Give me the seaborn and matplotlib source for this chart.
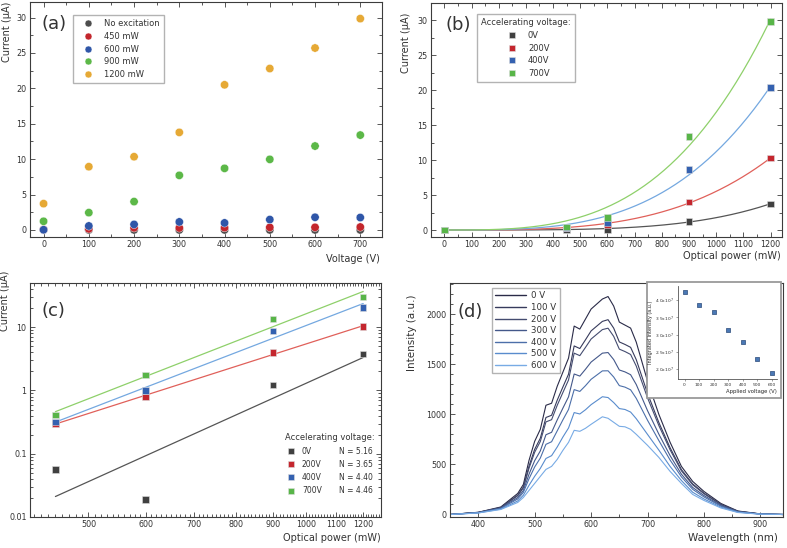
import numpy as np
import pandas as pd
import matplotlib.pyplot as plt
import seaborn as sns
from matplotlib.lines import Line2D
from matplotlib.patches import Rectangle
from matplotlib.ticker import MultipleLocator, FixedLocator, NullFormatter, FuncFormatter, LogLocator

# ---- (a) photocurrent vs accelerating voltage ----
voltages_a = [0, 100, 200, 300, 400, 500, 600, 700]
series_a = ["No excitation", "450 mW", "600 mW", "900 mW", "1200 mW"]
cur_none = [0.0, 0.0, 0.0, 0.0, 0.0, 0.0, 0.0, 0.0]
cur_450 = [0.056, 0.15, 0.30, 0.28, 0.32, 0.36, 0.37, 0.41]
cur_600 = [0.019, 0.56, 0.78, 1.13, 0.99, 1.46, 1.79, 1.75]
cur_900 = [1.22, 2.44, 4.0, 7.71, 8.7, 9.97, 11.85, 13.4]
cur_1200 = [3.71, 8.93, 10.34, 13.78, 20.5, 22.8, 25.7, 29.85]
colors_a = ["#4d4d4d", "#c3262c", "#2f56a8", "#5cb848", "#e6a935"]

# ---- (b)/(c) photocurrent vs optical power ----
power_bc = [0, 450, 600, 900, 1200]
volt_labels = ["0V", "200V", "400V", "700V"]
cur_0V = [0.0, 0.056, 0.019, 1.23, 3.75]
cur_200V = [0.0, 0.30, 0.79, 3.98, 10.3]
cur_400V = [0.0, 0.32, 0.99, 8.7, 20.4]
cur_700V = [0.0, 0.41, 1.76, 13.4, 29.85]
slopes_c = [5.16, 3.65, 4.40, 4.46]
mark_colors = ["#404040", "#c4262e", "#3461b0", "#58b548"]
fit_colors = ["#555555", "#e0605a", "#74a8e0", "#8ed06a"]

# ---- (d) spectra ----
wavelength = [350, 400, 440, 470, 480, 490, 500, 510, 520, 530, 540, 550, 560, 570, 580, 590,
              600, 620, 630, 640, 650, 660, 670, 680, 700, 720, 740, 760, 780, 800, 830, 860, 900, 940]
spec_0V = [0, 22, 75, 210, 300, 540, 730, 850, 1090, 1110, 1280, 1420, 1560, 1880, 1850, 1950,
           2050, 2150, 2175, 2080, 1920, 1890, 1860, 1720, 1330, 1000, 720, 480, 330, 230, 110, 35, 6, 0]
spec_100V = [0, 21, 70, 193, 275, 483, 650, 761, 968, 990, 1141, 1272, 1400, 1682, 1656, 1743,
             1832, 1927, 1944, 1860, 1722, 1697, 1668, 1545, 1208, 918, 665, 448, 305, 213, 101, 32, 5, 0]
spec_200V = [0, 20, 68, 187, 266, 462, 621, 728, 924, 946, 1090, 1217, 1342, 1610, 1585, 1667,
             1751, 1845, 1859, 1778, 1650, 1626, 1597, 1481, 1164, 888, 645, 436, 296, 207, 98, 31, 5, 0]
spec_300V = [0, 19, 64, 169, 240, 402, 537, 634, 796, 820, 944, 1061, 1174, 1402, 1381, 1449,
             1521, 1610, 1616, 1546, 1442, 1423, 1395, 1297, 1036, 802, 587, 402, 270, 189, 89, 28, 5, 0]
spec_400V = [0, 18, 60, 155, 221, 357, 474, 563, 700, 726, 835, 944, 1048, 1246, 1228, 1285,
             1349, 1433, 1434, 1372, 1286, 1271, 1244, 1159, 940, 738, 543, 376, 251, 175, 83, 26, 4, 0]
spec_500V = [0, 16, 54, 135, 192, 291, 381, 460, 559, 587, 674, 773, 863, 1017, 1003, 1045,
             1096, 1175, 1167, 1117, 1057, 1048, 1022, 956, 799, 643, 479, 339, 222, 155, 73, 23, 4, 0]
spec_600V = [0, 15, 50, 120, 170, 240, 310, 380, 450, 480, 550, 640, 720, 840, 830, 860,
             900, 975, 960, 920, 880, 875, 850, 800, 690, 570, 430, 310, 200, 140, 65, 20, 3, 0]
spec_labels = ["0 V", "100 V", "200 V", "300 V", "400 V", "500 V", "600 V"]
colors_d = ["#2a2b48", "#373b5c", "#444c70", "#44588a", "#4c6fa9", "#598ccd", "#78abe5"]

# inset: integrated intensity
inset_voltage = [0, 100, 200, 300, 400, 500, 600]
inset_integrated = [4.25e7, 3.87e7, 3.65e7, 3.15e7, 2.79e7, 2.29e7, 1.90e7]

sns.set_style("white")
plt.rcParams["font.family"] = ["DejaVu Sans"]
plt.rcParams["text.color"] = "#333333"

W, H = 787, 548
fig = plt.figure(figsize=(W / 100, H / 100), dpi=100)


def px_axes(l, t, r, b):
    return fig.add_axes([l / W, 1 - b / H, (r - l) / W, (b - t) / H])


def style_axes(ax, mirror=True):
    for s in ax.spines.values():
        s.set_color("#3c3c3c")
        s.set_linewidth(0.8)
    ax.tick_params(which="both", direction="in", top=mirror, right=mirror, bottom=True, left=True,
                   colors="#3c3c3c", labelcolor="#333333", labelsize=5.8, width=0.6, pad=2.5)
    ax.tick_params(which="major", length=3.5)
    ax.tick_params(which="minor", length=2)


def power_fit(x, y):
    # least squares y = a * x**n, scanning n
    x = np.asarray(x, float) / max(x)
    y = np.asarray(y, float)
    best = None
    for n in np.arange(1.0, 8.0, 0.01):
        xn = x ** n
        a = (xn * y).sum() / (xn * xn).sum()
        err = ((a * xn - y) ** 2).sum()
        if best is None or err < best[0]:
            best = (err, a, n)
    return best[1], best[2]


lbl_kw = dict(fontsize=7, color="#333333")

# ---------------- (a) ----------------
ax_a = px_axes(30, 2, 382, 237)
df_a = pd.DataFrame({
    "Voltage": voltages_a * len(series_a),
    "Current": cur_none + cur_450 + cur_600 + cur_900 + cur_1200,
    "Excitation": np.repeat(series_a, len(voltages_a)),
})
sns.scatterplot(data=df_a, x="Voltage", y="Current", hue="Excitation", hue_order=series_a,
                palette=colors_a, s=36, edgecolor="white", linewidth=0.3, ax=ax_a, legend=False)
ax_a.set_xlim(-30, 748)
ax_a.set_ylim(-1, 32.2)
ax_a.xaxis.set_major_locator(MultipleLocator(100))
ax_a.xaxis.set_minor_locator(MultipleLocator(50))
ax_a.yaxis.set_major_locator(MultipleLocator(5))
ax_a.yaxis.set_minor_locator(MultipleLocator(2.5))
style_axes(ax_a)
ax_a.set_xlabel("Voltage (V)", loc="right", **lbl_kw)
ax_a.set_ylabel("Current (\u03bcA)", loc="top", **lbl_kw)
ax_a.xaxis.set_label_coords(0.994, -0.072)
ax_a.yaxis.set_label_coords(-0.051, 1.0)
ax_a.text(0.034, 0.945, "(a)", transform=ax_a.transAxes, fontsize=13, va="top")
h_a = [Line2D([], [], ls="none", marker="o", ms=5, mfc=c, mec="white", mew=0.3) for c in colors_a]
ax_a.legend(h_a, series_a, loc="upper left", bbox_to_anchor=(0.122, 0.945), borderaxespad=0,
            fontsize=6, frameon=True, fancybox=False, edgecolor="#a0a0a0", handlelength=2.6,
            handletextpad=0.6, labelspacing=0.45, borderpad=0.5)

# ---------------- (b) ----------------
ax_b = px_axes(431, 3, 782, 237)
cur_all = [cur_0V, cur_200V, cur_400V, cur_700V]
df_bc = pd.DataFrame({
    "Power": power_bc * len(volt_labels),
    "Current": sum(cur_all, []),
    "Voltage": np.repeat(volt_labels, len(power_bc)),
})
fit_rows = []
xs = np.linspace(0, max(power_bc), 200)
for lab, cur in zip(volt_labels, cur_all):
    a, n = power_fit(power_bc, cur)
    for x in xs:
        fit_rows.append({"Power": x, "Current": a * (x / max(power_bc)) ** n, "Voltage": lab})
df_fit = pd.DataFrame(fit_rows)
sns.lineplot(data=df_fit, x="Power", y="Current", hue="Voltage", hue_order=volt_labels,
             palette=fit_colors, lw=0.9, estimator=None, ax=ax_b, legend=False)
sns.scatterplot(data=df_bc, x="Power", y="Current", hue="Voltage", hue_order=volt_labels,
                palette=mark_colors, marker="s", s=22, edgecolor="#dddddd", linewidth=0.4,
                ax=ax_b, legend=False, zorder=3)
ax_b.set_xlim(-49, 1242)
ax_b.set_ylim(-1, 32.5)
ax_b.xaxis.set_major_locator(MultipleLocator(100))
ax_b.xaxis.set_minor_locator(MultipleLocator(50))
ax_b.yaxis.set_major_locator(MultipleLocator(5))
ax_b.yaxis.set_minor_locator(MultipleLocator(2.5))
style_axes(ax_b)
ax_b.set_xlabel("Optical power (mW)", loc="right", **lbl_kw)
ax_b.set_ylabel("Current (\u03bcA)", loc="top", **lbl_kw)
ax_b.xaxis.set_label_coords(0.996, -0.06)
ax_b.yaxis.set_label_coords(-0.057, 0.957)
ax_b.text(0.04, 0.945, "(b)", transform=ax_b.transAxes, fontsize=13, va="top")
h_b = [Line2D([], [], ls="none", marker="s", ms=4.5, mfc=c, mec="#dddddd", mew=0.4) for c in mark_colors]
ax_b.legend(h_b, volt_labels, title="Accelerating voltage:", title_fontsize=6, loc="upper left",
            bbox_to_anchor=(0.132, 0.953), borderaxespad=0, fontsize=6, frameon=True, fancybox=False,
            edgecolor="#a0a0a0", handlelength=2.2, handletextpad=0.8, labelspacing=0.45, borderpad=0.5)

# ---------------- (c) ----------------
ax_c = px_axes(30, 283, 381, 517)
ax_c.set_xscale("log")
ax_c.set_yscale("log")
df_c = df_bc[df_bc["Power"] > 0]
line_rows = []
for lab, cur, n in zip(volt_labels, cur_all, slopes_c):
    p = np.array(power_bc[1:], float)
    c = np.array(cur[1:], float)
    b0 = np.mean(np.log10(c) - n * np.log10(p))
    for x in (p.min(), p.max()):
        line_rows.append({"Power": x, "Current": 10 ** (b0 + n * np.log10(x)), "Voltage": lab})
df_line = pd.DataFrame(line_rows)
sns.lineplot(data=df_line, x="Power", y="Current", hue="Voltage", hue_order=volt_labels,
             palette=fit_colors, lw=0.9, estimator=None, ax=ax_c, legend=False)
sns.scatterplot(data=df_c, x="Power", y="Current", hue="Voltage", hue_order=volt_labels,
                palette=mark_colors, marker="s", s=22, edgecolor="#dddddd", linewidth=0.4,
                ax=ax_c, legend=False, zorder=3)
ax_c.set_xlim(415, 1270)
ax_c.set_ylim(0.01, 50)
ax_c.xaxis.set_major_locator(FixedLocator([500, 600, 700, 800, 900, 1000, 1100, 1200]))
ax_c.xaxis.set_major_formatter(FuncFormatter(lambda v, p: f"{v:.0f}"))
ax_c.xaxis.set_minor_locator(MultipleLocator(10))
ax_c.xaxis.set_minor_formatter(NullFormatter())
ax_c.yaxis.set_major_locator(FixedLocator([0.01, 0.1, 1, 10]))
ax_c.yaxis.set_major_formatter(FuncFormatter(lambda v, p: f"{v:g}"))
ax_c.yaxis.set_minor_locator(LogLocator(base=10, subs=np.arange(2, 10)))
ax_c.yaxis.set_minor_formatter(NullFormatter())
style_axes(ax_c)
ax_c.set_xlabel("Optical power (mW)", loc="right", **lbl_kw)
ax_c.set_ylabel("Current (\u03bcA)", loc="top", **lbl_kw)
ax_c.xaxis.set_label_coords(1.0, -0.068)
ax_c.yaxis.set_label_coords(-0.057, 1.055)
ax_c.text(0.034, 0.92, "(c)", transform=ax_c.transAxes, fontsize=13, va="top")
h_c = [Line2D([], [], ls="none", marker="s", ms=4.5, mfc=c, mec="#dddddd", mew=0.4) for c in mark_colors]
h_blank = [Line2D([], [], ls="none") for _ in slopes_c]
ax_c.legend(h_c + h_blank, volt_labels + [f"N = {n:.2f}" for n in slopes_c], ncol=2,
            title="Accelerating voltage:", title_fontsize=6, loc="lower right",
            bbox_to_anchor=(0.99, 0.08), borderaxespad=0, fontsize=5.5, frameon=False,
            handlelength=1.4, handletextpad=0.7, columnspacing=0.2, labelspacing=0.55)

# ---------------- (d) ----------------
ax_d = px_axes(450, 283, 783, 517)
specs = [spec_0V, spec_100V, spec_200V, spec_300V, spec_400V, spec_500V, spec_600V]
df_d = pd.DataFrame({
    "Wavelength": wavelength * len(specs),
    "Intensity": sum(specs, []),
    "Voltage": np.repeat(spec_labels, len(wavelength)),
})
sns.lineplot(data=df_d, x="Wavelength", y="Intensity", hue="Voltage", hue_order=spec_labels,
             palette=colors_d, lw=0.8, estimator=None, ax=ax_d, legend=False)
ax_d.set_xlim(350, 940)
ax_d.set_ylim(-25, 2310)
ax_d.xaxis.set_major_locator(MultipleLocator(100))
ax_d.xaxis.set_minor_locator(MultipleLocator(50))
ax_d.yaxis.set_major_locator(MultipleLocator(500))
ax_d.yaxis.set_minor_locator(MultipleLocator(100))
style_axes(ax_d, mirror=False)
ax_d.set_xlabel("Wavelength (nm)", loc="right", fontsize=7.5, color="#333333")
ax_d.set_ylabel("Intensity (a.u.)", loc="top", fontsize=7.5, color="#333333")
ax_d.xaxis.set_label_coords(0.984, -0.068)
ax_d.yaxis.set_label_coords(-0.099, 0.949)
ax_d.text(0.024, 0.915, "(d)", transform=ax_d.transAxes, fontsize=13, va="top")
h_d = [Line2D([], [], color=c, lw=1.0) for c in colors_d]
ax_d.legend(h_d, spec_labels, loc="upper left", bbox_to_anchor=(0.125, 0.979), borderaxespad=0,
            fontsize=6.2, frameon=True, fancybox=False, edgecolor="#a0a0a0", handlelength=3.6,
            handletextpad=0.6, labelspacing=0.3, borderpad=0.4)

# inset
fig.patches.append(Rectangle((647 / W, 1 - 398 / H), (781 - 647) / W, (398 - 282) / H,
                             transform=fig.transFigure, facecolor="white", edgecolor="#9a9a9a",
                             lw=1.3, zorder=5))
ax_in = px_axes(678, 286, 777, 379)
ax_in.set_zorder(6)
df_in = pd.DataFrame({"Applied voltage": inset_voltage, "Integrated": inset_integrated})
sns.scatterplot(data=df_in, x="Applied voltage", y="Integrated", marker="s", s=9,
                color="#4a78b5", edgecolor="#2a4a7a", linewidth=0.5, ax=ax_in)
ax_in.set_xlim(-45, 636)
ax_in.set_ylim(1.72e7, 4.41e7)
ax_in.xaxis.set_major_locator(MultipleLocator(100))
ax_in.yaxis.set_major_locator(MultipleLocator(0.5e7))
ax_in.yaxis.set_major_formatter(FuncFormatter(lambda v, p: f"{v / 1e7:.1f}x10$^7$"))
for s in ["top", "right"]:
    ax_in.spines[s].set_visible(False)
for s in ["left", "bottom"]:
    ax_in.spines[s].set_color("#555555")
    ax_in.spines[s].set_linewidth(0.6)
ax_in.tick_params(which="both", direction="out", length=1.5, width=0.4, labelsize=3.2, pad=1.5,
                  colors="#555555", labelcolor="#333333", left=True, bottom=True)
ax_in.set_xlabel("Applied voltage (V)", fontsize=3.8, loc="right", labelpad=1.5)
ax_in.set_ylabel("Integrated intensity (a.u.)", fontsize=3.5, labelpad=1.5)

fig.savefig("out.png", dpi=100)
